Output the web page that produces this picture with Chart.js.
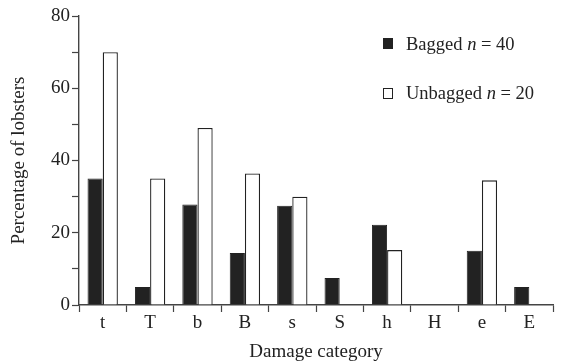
<!DOCTYPE html>
<html>
<head>
<meta charset="utf-8">
<script src="https://cdn.jsdelivr.net/npm/chart.js@4.4.1/dist/chart.umd.min.js"></script>
<style>
  html, body { margin: 0; padding: 0; background: #fff; }
  #wrap { position: relative; width: 562px; height: 363px; }
  canvas { display: block; }
  .leg { position: absolute; font-family: "Liberation Serif", "Times New Roman", serif; font-size: 18.5px; color: #222; white-space: nowrap; line-height: 20px; }
  .sw { position: absolute; width: 10px; height: 11px; box-sizing: border-box; border: 1.5px solid #222; }
</style>
</head>
<body>
<div id="wrap">
  <canvas id="c" width="562" height="363"></canvas>
  <div class="sw" style="left:383px; top:38px; background:#222;"></div>
  <div class="leg" style="left:406px; top:34px;">Bagged <i>n</i> = 40</div>
  <div class="sw" style="left:383px; top:88px; background:#fff;"></div>
  <div class="leg" style="left:406px; top:83px;">Unbagged <i>n</i> = 20</div>
</div>
<script>
const categories = ["t", "T", "b", "B", "s", "S", "h", "H", "e", "E"];
const bagged = [35, 5, 27.8, 14.4, 27.5, 7.5, 22.2, 0, 15, 5];
const unbagged = [70, 35, 49, 36.4, 30, 0, 15.2, 0, 34.5, 0];
const yTickLabels = ["0", "20", "40", "60", "80"];

const serif = "'Liberation Serif', 'Times New Roman', serif";
const axisColor = "#444";

new Chart(document.getElementById("c"), {
  type: "bar",
  data: {
    labels: categories,
    datasets: [
      { label: "Bagged n = 40", data: bagged, backgroundColor: "#222", borderColor: "#222", borderWidth: 1 },
      { label: "Unbagged n = 20", data: unbagged, backgroundColor: "#fff", borderColor: "#222", borderWidth: 1.3 }
    ]
  },
  options: {
    responsive: false,
    animation: false,
    events: [],
    layout: { padding: { top: 16, right: 9, left: 0, bottom: 0 } },
    datasets: { bar: { categoryPercentage: 0.64, barPercentage: 1.0 } },
    plugins: { legend: { display: false }, tooltip: { enabled: false } },
    scales: {
      x: {
        offset: true,
        grid: { offset: true, drawOnChartArea: false, drawTicks: true, tickLength: 7, color: axisColor, tickWidth: 1.2 },
        border: { display: true, color: axisColor, width: 1.4 },
        ticks: { color: "#222", font: { family: serif, size: 19 }, padding: 0 },
        title: { display: true, text: "Damage category", color: "#222", font: { family: serif, size: 19 }, padding: { top: 4, bottom: 0 } },
        afterFit(s) { s.height = 58; }
      },
      y: {
        min: 0, max: 80,
        grid: { drawOnChartArea: false, drawTicks: true, tickLength: 7, color: axisColor, tickWidth: 1.2 },
        border: { display: true, color: axisColor, width: 1.4 },
        ticks: {
          stepSize: 10, color: "#222", font: { family: serif, size: 19 }, padding: 2,
          callback: (v) => (v % 20 === 0 ? yTickLabels[v / 20] : "")
        },
        title: { display: true, text: "Percentage of lobsters", color: "#222", font: { family: serif, size: 19 }, padding: { top: 8, bottom: 4 } },
        afterFit(s) { s.width = 79; }
      }
    }
  }
});
</script>
</body>
</html>
